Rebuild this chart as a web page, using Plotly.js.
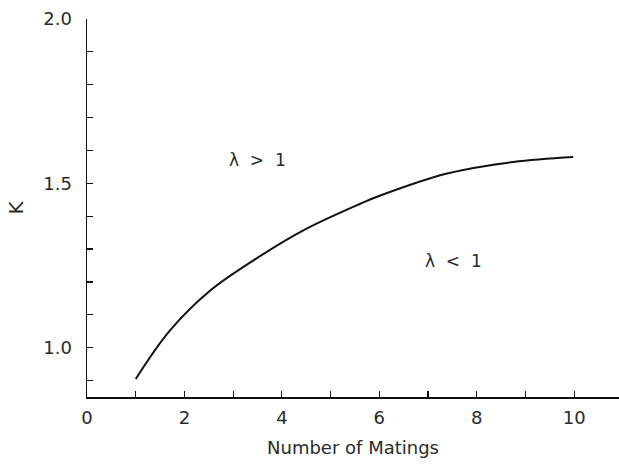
<!DOCTYPE html>
<html>
<head>
<meta charset="utf-8">
<script src="https://cdn.plot.ly/plotly-3.0.1.min.js"></script>
<style>html,body{margin:0;padding:0;background:#fff;}#chart{width:619px;height:464px;}</style>
</head>
<body>
<div id="chart"></div>
<script>
var matings = [1.0, 1.7, 2.53, 3.41, 4.44, 5.61, 6.02, 7.39, 8.75, 9.98];
var kValues = [0.905, 1.052, 1.174, 1.265, 1.357, 1.438, 1.463, 1.530, 1.565, 1.580];
var regionLabels = ["λ  >  1", "λ  <  1"];
var regionX = [3.49, 7.52];
var regionY = [1.57, 1.265];
var xTitle = "Number of Matings";
var yTitle = "K";

var fam = "DejaVu Sans, Liberation Sans, sans-serif";
var txtColor = "#2a2a2a";

var data = [{
  x: matings, y: kValues, type: "scatter", mode: "lines",
  line: {color: "#111", width: 2, shape: "spline", smoothing: 1},
  hoverinfo: "skip", showlegend: false
}];

var annotations = regionLabels.map(function(t, i){
  return {x: regionX[i], y: regionY[i], xref: "x", yref: "y", text: t,
    showarrow: false, font: {family: fam, size: 17, color: txtColor}};
});

var layout = {
  width: 619, height: 464,
  margin: {l: 87, r: 0, t: 19, b: 67},
  paper_bgcolor: "#fff", plot_bgcolor: "#fff",
  showlegend: false,
  font: {family: fam, size: 17, color: txtColor},
  xaxis: {
    range: [0, 10.92], tick0: 0, dtick: 2, ticks: "inside", ticklen: 6, tickwidth: 1.2,
    tickcolor: "#111", showline: true, linecolor: "#111", linewidth: 1.5,
    showgrid: false, zeroline: false, ticklabelstandoff: 4,
    minor: {dtick: 1, tick0: 0, ticks: "inside", ticklen: 6, tickwidth: 1.2, tickcolor: "#111", showgrid: false},
    title: {text: xTitle, font: {family: fam, size: 18, color: txtColor}, standoff: 14},
    tickfont: {family: fam, size: 18, color: txtColor}
  },
  yaxis: {
    range: [0.85, 2.0], tick0: 1.0, dtick: 0.5, tickformat: ".1f", ticks: "inside", ticklen: 6, tickwidth: 1.2,
    tickcolor: "#111", showline: true, linecolor: "#111", linewidth: 1.5,
    showgrid: false, zeroline: false, ticklabelstandoff: 10,
    minor: {dtick: 0.1, tick0: 1.0, ticks: "inside", ticklen: 6, tickwidth: 1.2, tickcolor: "#111", showgrid: false},
    title: {text: yTitle, font: {family: fam, size: 20, color: txtColor}, standoff: 14},
    tickfont: {family: fam, size: 18, color: txtColor}
  },
  annotations: annotations
};

Plotly.newPlot("chart", data, layout, {displayModeBar: false, staticPlot: true});
</script>
</body>
</html>
